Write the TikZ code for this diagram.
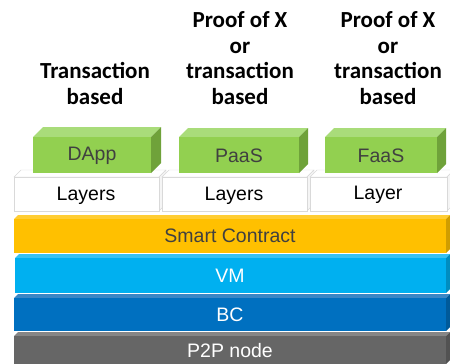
\documentclass[tikz,border=0pt]{standalone}
\usepackage{fontspec}
\setmainfont{Carlito}
\newfontfamily\arialfont{Liberation Sans}
\definecolor{grnF}{HTML}{92D050}
\definecolor{grnT}{HTML}{A9DC7A}
\definecolor{grnS}{HTML}{6FA23A}
\definecolor{orgF}{HTML}{FFC000}
\definecolor{orgT}{HTML}{FFCD33}
\definecolor{orgS}{HTML}{D09E00}
\definecolor{vmF}{HTML}{00B0F0}
\definecolor{vmT}{HTML}{38C2F3}
\definecolor{vmS}{HTML}{008DC0}
\definecolor{bcF}{HTML}{0070C0}
\definecolor{bcT}{HTML}{3A87C6}
\definecolor{bcS}{HTML}{005A9A}
\definecolor{p2pF}{HTML}{666666}
\definecolor{p2pT}{HTML}{868686}
\definecolor{p2pS}{HTML}{525252}
\definecolor{txtgray}{HTML}{404040}
% slab: x1 y1 x2 y2 depth front top side
\newcommand{\slab}[8]{%
  \fill[#7] (#1,#2) -- (#1+#5,#2-#5) -- (#3+#5,#2-#5) -- (#3,#2) -- cycle;
  \fill[#8] (#3,#2) -- (#3+#5,#2-#5) -- (#3+#5,#4-#5) -- (#3,#4) -- cycle;
  \fill[#6] (#1,#2) rectangle (#3,#4);
}
\newcommand{\layerbox}[4]{%
  \filldraw[fill=white,draw=gray!30] (#1,#2) -- (#1+7,#2-7) -- (#3+7,#2-7) -- (#3,#2) -- cycle;
  \filldraw[fill=gray!8,draw=gray!30] (#3,#2) -- (#3+7,#2-7) -- (#3+7,#4-7) -- (#3,#4) -- cycle;
  \filldraw[fill=white,draw=gray!30] (#1,#2) rectangle (#3,#4);
}

\begin{document}
\begin{tikzpicture}[x=1pt,y=-1pt,
   lbl/.style={font=\arialfont\fontsize{19.5}{22}\selectfont},
   head/.style={font=\bfseries\fontsize{23}{25.7}\selectfont,align=center,anchor=south,inner sep=0pt}]
   \useasboundingbox (0,0) rectangle (450,364);
   % stack, bottom up
   \slab{14}{336}{446}{364}{4}{p2pF}{p2pT}{p2pS}
   \slab{14}{298}{446}{331}{4}{bcF}{bcT}{bcS}
   \slab{15}{258}{446}{293}{4}{vmF}{vmT}{vmS}
   \slab{14}{219}{446}{253}{4}{orgF}{orgT}{orgS}
   \layerbox{14}{177}{159}{211}
   \layerbox{162}{177}{307}{211}
   \layerbox{310}{177}{447}{211}
   \slab{33}{137}{151}{173}{10}{grnF}{grnT}{grnS}
   \slab{179}{137}{299}{173}{9}{grnF}{grnT}{grnS}
   \slab{325}{137}{437}{173}{9}{grnF}{grnT}{grnS}
   % labels
   \node[lbl,text=white] (p2p) at (230,351) {P2P node};
   \node[lbl,text=white] (bc) at (230,315) {BC};
   \node[lbl,text=white] (vm) at (230,276) {VM};
   \node[lbl,text=txtgray] (sc) at (230,236) {Smart Contract};
   \node[lbl] (lay1) at (86,196) {Layers};
   \node[lbl] (lay2) at (234,196) {Layers};
   \node[lbl] (lay3) at (378,195) {Layer};
   \node[lbl,text=txtgray] (dapp) at (92,156) {DApp};
   \node[lbl,text=txtgray] (paas) at (239,156) {PaaS};
   \node[lbl,text=txtgray] (faas) at (381,156) {FaaS};
   \node[head] (hd1) at (95,105) {Transaction\\based};
   \node[head] (hd2) at (240,105) {Proof of X\\or\\transaction\\based};
   \node[head] (hd3) at (388,105) {Proof of X\\or\\transaction\\based};
\end{tikzpicture}
\end{document}
